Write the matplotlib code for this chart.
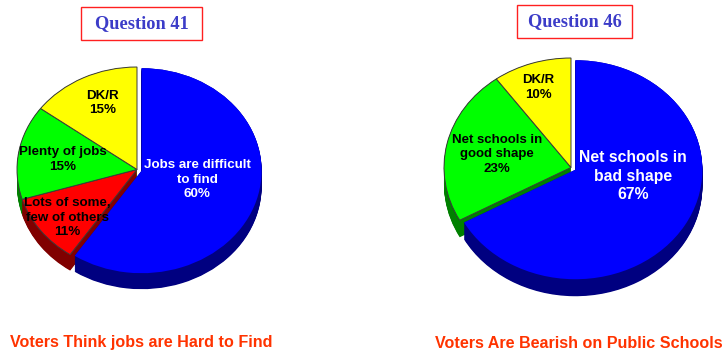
import numpy as np
import matplotlib
matplotlib.use("Agg")
from matplotlib import pyplot as plt
from matplotlib.patches import Rectangle

# data
q41_labels = ["Jobs are difficult\nto find", "Lots of some,\nfew of others", "Plenty of jobs", "DK/R"]
q41_values = [60, 11, 15, 15]
q46_labels = ["Net schools in\nbad shape", "Net schools in\ngood shape", "DK/R"]
q46_values = [67, 23, 10]

W, H = 723, 353
fig = plt.figure(figsize=(W / 100, H / 100), dpi=100)

top_col = {"blue": "#0000FF", "red": "#FF0000", "green": "#00FF00", "yellow": "#FFFF00"}
side_col = {"blue": "#000080", "red": "#800000", "green": "#008000", "yellow": "#808000"}


def pie3d(labels, values, cols, cx, cy, rx, ry, depth, label_pos, sizes):
    L = 1.3
    ax = fig.add_axes([(cx - L * rx) / W, (H - cy - L * ry) / H,
                       2 * L * rx / W, 2 * L * ry / H])
    explode = [0.04] + [0] * (len(values) - 1)
    d = depth / ry
    # side band: dark pies stacked downward
    for off in np.linspace(d, 0, 24):
        ax.pie(values, colors=[side_col[c] for c in cols], startangle=90,
               counterclock=False, explode=explode, center=(0, -off),
               wedgeprops=dict(linewidth=0))
    wedges, _ = ax.pie(values, colors=[top_col[c] for c in cols], startangle=90,
                       counterclock=False, explode=explode,
                       wedgeprops=dict(linewidth=0.7))
    for w, c in zip(wedges, cols):
        w.set_edgecolor("none" if c == "blue" else "#3a3a3a")
    for lab, v, c, (x, y), fs in zip(labels, values, cols, label_pos, sizes):
        ax.text(x, y, f"{lab}\n{v}%", ha="center", va="center",
                fontsize=fs, fontweight="bold", family="Liberation Sans",
                color="white" if c == "blue" else "black", linespacing=1.3)
    ax.set_xlim(-L, L)
    ax.set_ylim(-L, L)
    ax.set_aspect("auto")
    ax.axis("off")


pie3d(q41_labels, q41_values, ["blue", "red", "green", "yellow"],
      137, 169.5, 120, 102.5, 16,
      [(0.5, -0.1), (-0.58, -0.47), (-0.62, 0.1), (-0.29, 0.65)],
      [9.6, 9.6, 9.6, 9.6])
pie3d(q46_labels, q46_values, ["blue", "green", "yellow"],
      571, 167.5, 127, 109.5, 17,
      [(0.49, -0.08), (-0.58, 0.12), (-0.26, 0.73)],
      [11.3, 9.5, 9.5])


def qbox(text, x0, x1, y0, y1):
    fig.add_artist(Rectangle((x0 / W, 1 - y1 / H), (x1 - x0) / W, (y1 - y0) / H,
                             transform=fig.transFigure, fill=False,
                             edgecolor="#FF2020", linewidth=1.0))
    fig.text((x0 + x1) / 2 / W, 1 - (y0 + y1) / 2 / H, text, ha="center", va="center",
             fontsize=13.2, fontweight="bold", family="Liberation Serif", color="#3C3CC8")


qbox("Question 41", 81, 202, 7, 40)
qbox("Question 46", 517, 632, 5, 38)

fig.text(141 / W, 1 - 343 / H, "Voters Think jobs are Hard to Find", ha="center", va="center",
         fontsize=11.6, fontweight="bold", family="Liberation Sans", color="#FF3300")
fig.text(579 / W, 1 - 343 / H, "Voters Are Bearish on Public Schools", ha="center", va="center",
         fontsize=11.6, fontweight="bold", family="Liberation Sans", color="#FF3300")

fig.savefig("out.png", dpi=100, facecolor="white")
